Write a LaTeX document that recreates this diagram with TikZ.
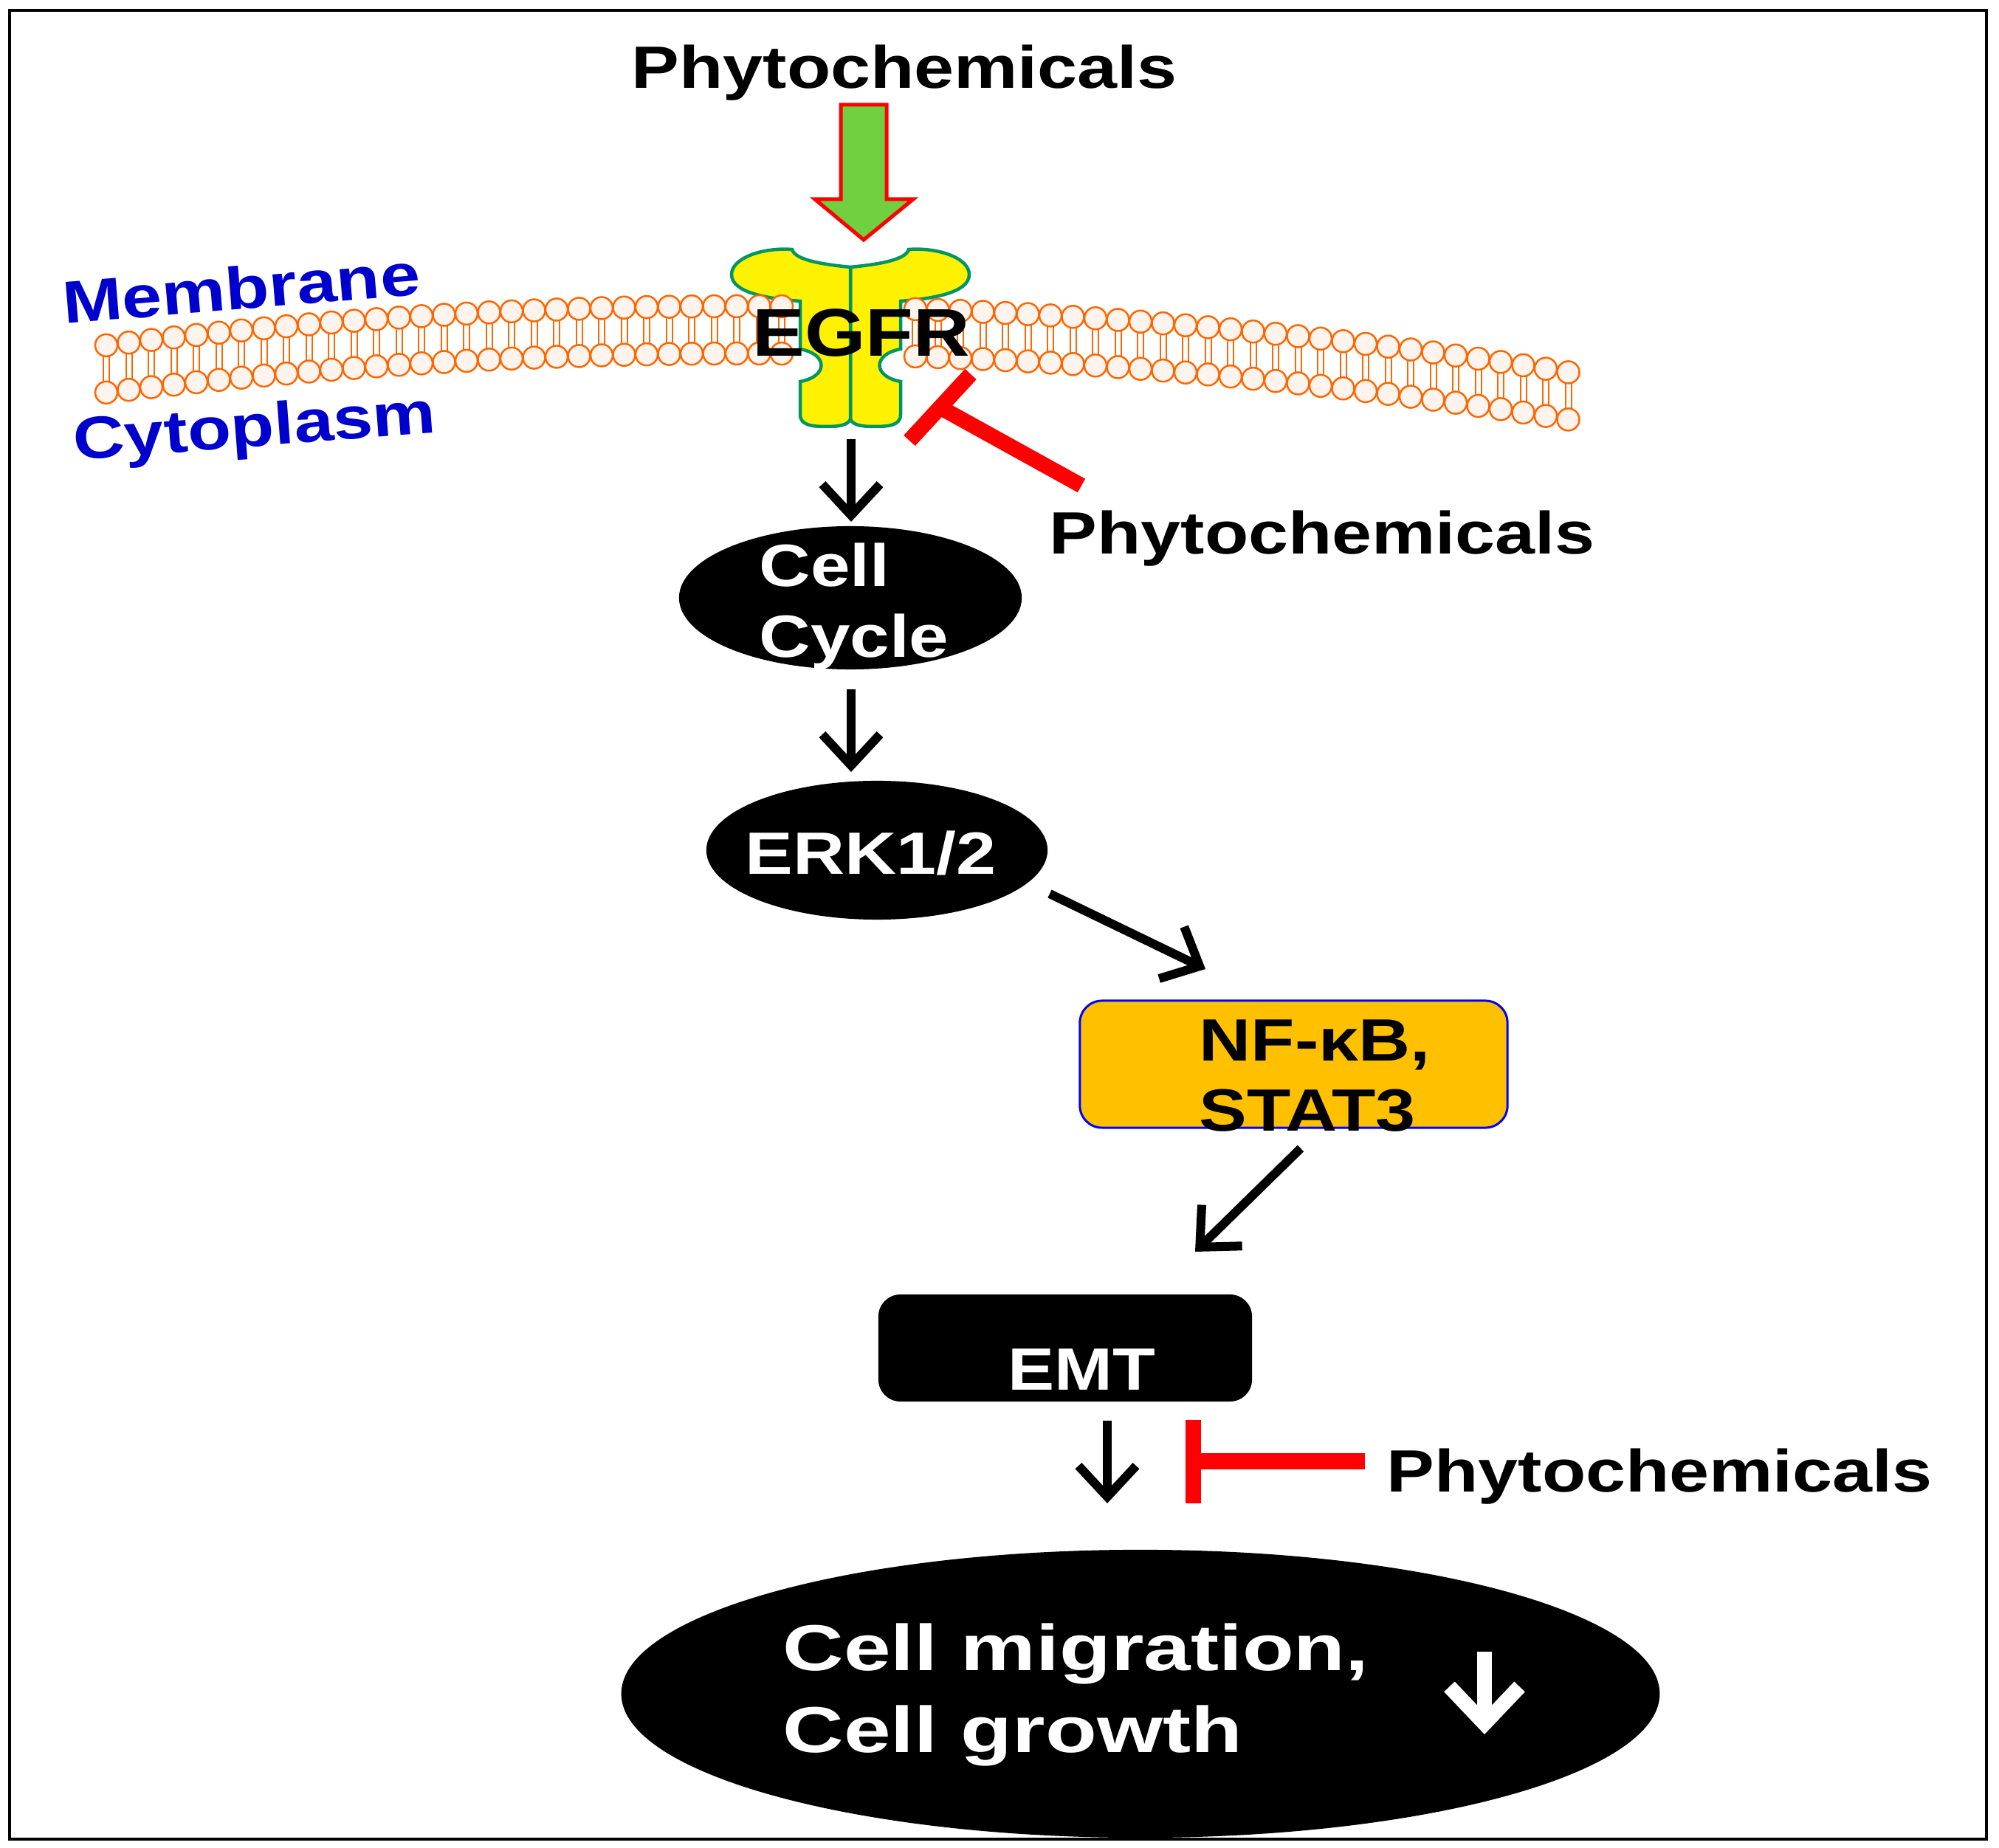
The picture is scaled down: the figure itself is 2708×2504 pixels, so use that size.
\documentclass[tikz,border=0pt]{standalone}
\usepackage{fontspec}
\setmainfont{Liberation Sans}
\usetikzlibrary{arrows.meta,shapes.geometric}
\definecolor{lor}{RGB}{255,102,0}
\definecolor{lhead}{RGB}{255,243,238}
\definecolor{agreen}{RGB}{112,208,64}
\definecolor{egb}{RGB}{0,150,100}
\definecolor{txtblue}{RGB}{0,0,204}
\definecolor{nfill}{RGB}{255,192,0}
\definecolor{ired}{RGB}{255,0,0}
\begin{document}
\begin{tikzpicture}[x=0.01cm,y=-0.01cm,
  lbl/.style={inner sep=0pt,font=\fontsize{23pt}{27pt}\selectfont\bfseries},
  act/.style={line width=0.12cm,-{Straight Barb[length=0.42cm,width=0.78cm]}},
  inh/.style={line width=0.21cm,ired},
  blk/.style={fill=black,draw=none,inner sep=0pt}]
\useasboundingbox (0,0) rectangle (2708,2504);
\draw[line width=0.04cm] (13,14) rectangle (2691,2492);

% EGFR receptor (two mirrored halves)
\foreach \s in {1,-1}{
\begin{scope}[shift={(1152,0)},xscale=\s]
\filldraw[fill=yellow,draw=egb,line width=0.045cm]
 (0,362) .. controls (40,358) and (75,352) .. (79,338)
 .. controls (120,335) and (161,350) .. (161,372)
 .. controls (161,397) and (110,405) .. (68,408)
 -- (68,473) .. controls (30,480) and (30,510) .. (68,517)
 -- (68,562) .. controls (68,577) and (50,578) .. (32,578)
 .. controls (12,578) and (3,575) .. (0,568) -- cycle;
\end{scope}}

% membrane
\foreach \x in {144,174.5,...,1070,1240,1270.5,...,2140}{
  \pgfmathsetmacro\yc{519.05-0.14353*\x+0.7141*(\x/100)*(\x/100)}
  \draw[lor,line width=0.02cm] (\x-4,\yc-17) -- (\x-4,\yc+17) (\x+4,\yc-17) -- (\x+4,\yc+17);
  \filldraw[fill=lhead,draw=lor,line width=0.025cm] (\x,\yc-32) circle (0.15cm) (\x,\yc+32) circle (0.15cm);
}
\node[lbl,anchor=base,rotate=4.7,text=txtblue] (mem) at (329,419) {\scalebox{1.2}[1]{Membrane}};
\node[lbl,anchor=base,rotate=4.3,text=txtblue] (cyt) at (347,605) {\scalebox{1.19}[1]{Cytoplasm}};

% top phytochemicals and green arrow
\node[lbl,anchor=base west] (p1) at (855,120) {\scalebox{1.2}[1]{Phytochemicals}};
\filldraw[fill=agreen,draw=ired,line width=0.05cm]
 (1139,142) -- (1201,142) -- (1201,270) -- (1237,270) -- (1170,325) -- (1104,270) -- (1139,270) -- cycle;

\node[lbl,anchor=base,font=\fontsize{26pt}{30pt}\selectfont\bfseries] (egfr) at (1167,483) {\scalebox{1.16}[1]{EGFR}};

% inhibitor near EGFR
\coordinate (ib1) at (1232,597);
\coordinate (ib2) at (1315,507);
\coordinate (ibc) at (1273.5,552);
\node[lbl,anchor=base west] (p2) at (1421,751) {\scalebox{1.2}[1]{Phytochemicals}};
\coordinate (p2s) at (1465,658);
\draw[inh] (ib1) -- (ib2);
\draw[inh] (p2s) -- (ibc);

% cell cycle
\node[blk,ellipse,minimum width=4.64cm,minimum height=1.94cm] (cc) at (1152,810) {};
\node[lbl,anchor=base west,text=white] (cct1) at (1028,795) {\scalebox{1.19}[1]{Cell}};
\node[lbl,anchor=base west,text=white] (cct2) at (1028,891) {\scalebox{1.19}[1]{Cycle}};
\coordinate (a1s) at (1153,595);
\coordinate (a1e) at (1153,707);
\draw[act] (a1s) -- (a1e);

% ERK
\node[blk,ellipse,minimum width=4.62cm,minimum height=1.88cm] (erk) at (1188,1152) {};
\node[lbl,anchor=base west,text=white] (erkt) at (1009,1185) {\scalebox{1.2}[1]{ERK1/2}};
\coordinate (a2s) at (1153,934);
\coordinate (a2e) at (1153,1046);
\draw[act] (a2s) -- (a2e);
\coordinate (a3s) at (1422,1211);
\coordinate (a3e) at (1633,1313);
\draw[act] (a3s) -- (a3e);

% NF-kB box
\node[draw=blue,fill=nfill,rounded corners=0.3cm,line width=0.03cm,minimum width=5.79cm,minimum height=1.72cm,inner sep=0pt] (nf) at (1752.5,1442) {};
\node[lbl,anchor=base west] (nft1) at (1624,1438) {\scalebox{1.2}[1]{NF-κB,}};
\node[lbl,anchor=base west] (nft2) at (1624,1532) {\scalebox{1.2}[1]{STAT3}};
\coordinate (a4s) at (1762,1556);
\coordinate (a4e) at (1619,1696);
\draw[act] (a4s) -- (a4e);

% EMT
\node[blk,rounded corners=0.3cm,minimum width=5.06cm,minimum height=1.45cm] (emt) at (1443,1826.5) {};
\node[lbl,anchor=base west,text=white] (emtt) at (1365,1883) {\scalebox{1.17}[1]{EMT}};
\coordinate (a5s) at (1500,1925);
\coordinate (a5e) at (1500,2037);
\draw[act] (a5s) -- (a5e);

% bottom inhibitor
\coordinate (ib3) at (1616,1924);
\coordinate (ib4) at (1616,2037);
\coordinate (ib5) at (1616,1980);
\coordinate (ib6) at (1849,1980);
\draw[inh] (ib3) -- (ib4);
\draw[inh] (ib6) -- (ib5);
\node[lbl,anchor=base west] (p3) at (1878,2021) {\scalebox{1.2}[1]{Phytochemicals}};

% bottom ellipse
\node[blk,ellipse,minimum width=14.06cm,minimum height=3.9cm] (cm) at (1545,2295) {};
\node[lbl,anchor=base west,text=white,font=\fontsize{25pt}{30pt}\selectfont\bfseries] (cmt1) at (1060,2263) {\scalebox{1.3}[1]{Cell migration,}};
\node[lbl,anchor=base west,text=white,font=\fontsize{25pt}{30pt}\selectfont\bfseries] (cmt2) at (1060,2374) {\scalebox{1.3}[1]{Cell growth}};
\coordinate (a6s) at (2011,2238);
\coordinate (a6e) at (2011,2350);
\draw[white,line width=0.2cm,-{Straight Barb[length=0.5cm,width=0.95cm]}] (a6s) -- (a6e);
\end{tikzpicture}
\end{document}
